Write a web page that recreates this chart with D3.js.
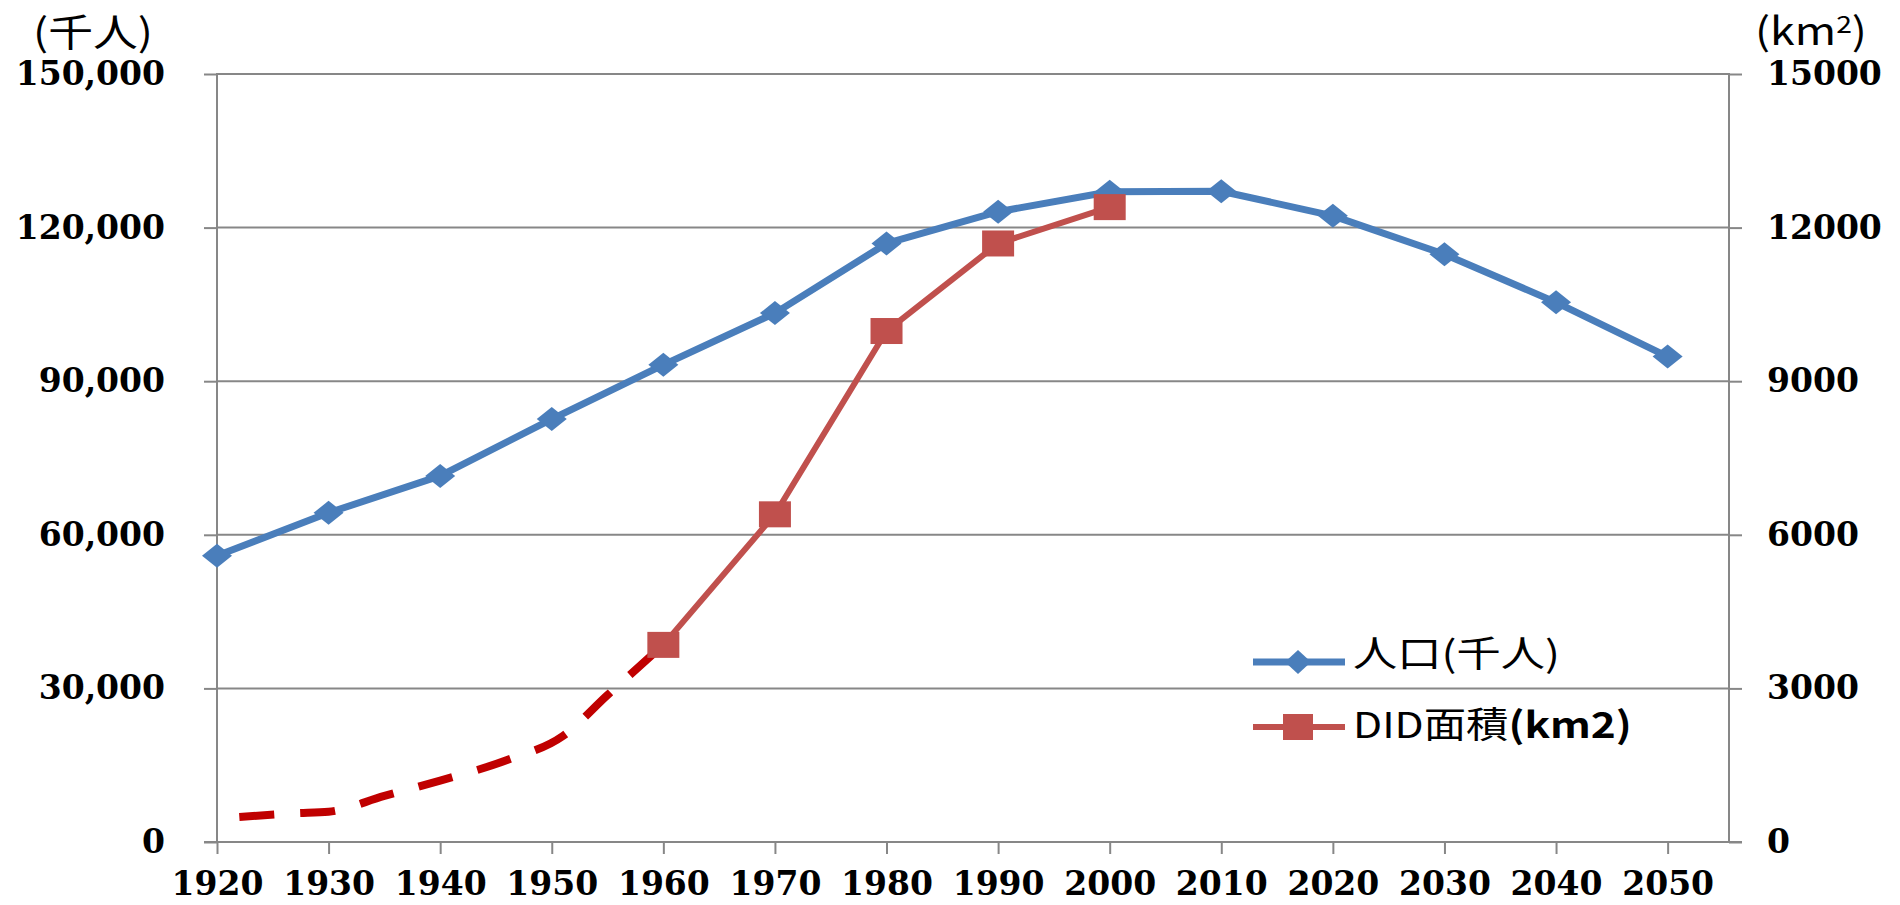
<!DOCTYPE html>
<html>
<head>
<meta charset="utf-8">
<script src="https://cdn.jsdelivr.net/npm/d3@7"></script>
<style>
  html, body { margin: 0; padding: 0; background: #fff; }
  svg { display: block; }
</style>
</head>
<body>
<svg id="chart" width="1900" height="905"></svg>
<script>
// ---------------- data ----------------
const years = [1920, 1930, 1940, 1950, 1960, 1970, 1980, 1990, 2000, 2010, 2020, 2030, 2040, 2050];
const population = [55900, 64300, 71500, 82600, 93200, 103300, 116900, 123100, 127000, 127100, 122300, 114800, 105400, 94800];
const didYears = [1960, 1970, 1980, 1990, 2000];
const didArea = [3850, 6400, 9980, 11690, 12400];
// estimated (dashed) part of DID area
const didEstYears = [1922, 1927, 1930, 1935, 1940, 1946, 1951, 1955, 1960];
const didEstArea = [490, 560, 590, 900, 1200, 1600, 2070, 2870, 3850];
const leftTicks = [0, 30000, 60000, 90000, 120000, 150000];
const rightTicks = [0, 3000, 6000, 9000, 12000, 15000];
const leftUnit = "(千人)";
const seriesNames = ["人口(千人)", "DID面積", "(km2)"];

// ---------------- layout ----------------
const L = 217, R = 1729, T = 74, B = 842;
const gray = "#878787";
const blue = "#4A7EBB";
const red = "#C0504D";
const dashRed = "#C00000";
const numFont = "'DejaVu Serif', serif";
const cjkFont = "'Noto Sans CJK JP', 'Noto Sans', sans-serif";

const svg = d3.select("#chart");

const x = d3.scaleLinear().domain([1920, 2055.5]).range([L, R]);
const yL = d3.scaleLinear().domain([0, 150000]).range([B, T]);
const yR = d3.scaleLinear().domain([0, 15000]).range([B, T]);

// gridlines
svg.append("g").selectAll("line").data(leftTicks.filter(d => d > 0)).join("line")
  .attr("x1", L).attr("x2", R)
  .attr("y1", d => yL(d)).attr("y2", d => yL(d))
  .attr("stroke", gray).attr("stroke-width", 2);

// left axis
const gLeft = svg.append("g").attr("transform", `translate(${L},0)`)
  .call(d3.axisLeft(yL).tickValues(leftTicks).tickSize(13).tickPadding(39).tickFormat(d3.format(",")));
// right axis
const gRight = svg.append("g").attr("transform", `translate(${R},0)`)
  .call(d3.axisRight(yR).tickValues(rightTicks).tickSize(13).tickPadding(25).tickFormat(d => String(d)));
// bottom axis
const gBottom = svg.append("g").attr("transform", `translate(0,${B})`)
  .call(d3.axisBottom(x).tickValues(years).tickSize(12).tickPadding(18).tickFormat(d => String(d)));

[gLeft, gRight, gBottom].forEach(g => {
  g.select(".domain").remove();
  g.selectAll(".tick line").attr("stroke", gray).attr("stroke-width", 2);
  g.selectAll(".tick text")
    .attr("fill", "#000")
    .style("font-family", numFont)
    .style("font-weight", "bold")
    .style("font-size", "33px");
});

// axis lines
svg.append("line").attr("x1", L).attr("x2", L).attr("y1", T - 1).attr("y2", B)
  .attr("stroke", gray).attr("stroke-width", 2);
svg.append("line").attr("x1", R).attr("x2", R).attr("y1", T - 1).attr("y2", B)
  .attr("stroke", gray).attr("stroke-width", 2);
svg.append("line").attr("x1", L - 13).attr("x2", R + 13).attr("y1", B).attr("y2", B)
  .attr("stroke", gray).attr("stroke-width", 2);

// helper to stretch text horizontally to a given width
function fitText(textSel, x0, y0, width) {
  const w = textSel.node().getComputedTextLength();
  textSel.attr("x", 0).attr("y", 0)
    .attr("transform", `translate(${x0},${y0}) scale(${width / w},1)`);
}

// unit labels
const u1 = svg.append("text").text(leftUnit)
  .style("font-family", cjkFont).style("font-size", "38px").attr("fill", "#000");
fitText(u1, 33, 46, 120);
const u2 = svg.append("text")
  .style("font-family", cjkFont).style("font-size", "38px").attr("fill", "#000");
u2.append("tspan").text("(km");
u2.append("tspan").text("2").attr("dy", -12).style("font-size", "24px");
u2.append("tspan").text(")").attr("dy", 12);
fitText(u2, 1755, 45, 112);

// ---------------- series ----------------
const popData = years.map((yr, i) => ({ yr, v: population[i] }));
const didData = didYears.map((yr, i) => ({ yr, v: didArea[i] }));
const estData = didEstYears.map((yr, i) => ({ yr, v: didEstArea[i] }));

// estimated DID dashed curve
svg.append("path").datum(estData)
  .attr("fill", "none").attr("stroke", dashRed).attr("stroke-width", 8)
  .attr("stroke-dasharray", "35,26")
  .attr("d", d3.line().x(d => x(d.yr)).y(d => yR(d.v)).curve(d3.curveMonotoneX));

// population line
svg.append("path").datum(popData)
  .attr("fill", "none").attr("stroke", blue).attr("stroke-width", 7)
  .attr("stroke-linejoin", "round")
  .attr("d", d3.line().x(d => x(d.yr)).y(d => yL(d.v)));

const diamond = "M0,-12L15,0L0,12L-15,0Z";
svg.append("g").selectAll("path").data(popData).join("path")
  .attr("d", diamond)
  .attr("transform", d => `translate(${x(d.yr)},${yL(d.v)})`)
  .attr("fill", blue);

// DID line
svg.append("path").datum(didData)
  .attr("fill", "none").attr("stroke", red).attr("stroke-width", 6)
  .attr("stroke-linejoin", "round")
  .attr("d", d3.line().x(d => x(d.yr)).y(d => yR(d.v)));

svg.append("g").selectAll("rect").data(didData).join("rect")
  .attr("x", d => x(d.yr) - 16).attr("y", d => yR(d.v) - 13)
  .attr("width", 32).attr("height", 26)
  .attr("fill", red);

// ---------------- legend ----------------
const lg = svg.append("g");
lg.append("line").attr("x1", 1253).attr("x2", 1345).attr("y1", 662).attr("y2", 662)
  .attr("stroke", blue).attr("stroke-width", 7);
lg.append("path").attr("d", "M0,-12L13,0L0,12L-13,0Z")
  .attr("transform", "translate(1298,662)").attr("fill", blue);
const t1 = lg.append("text").text(seriesNames[0])
  .style("font-family", cjkFont).style("font-size", "36px").attr("fill", "#000");
fitText(t1, 1353, 667, 207);

lg.append("line").attr("x1", 1253).attr("x2", 1345).attr("y1", 727).attr("y2", 727)
  .attr("stroke", red).attr("stroke-width", 6);
lg.append("rect").attr("x", 1283).attr("y", 714).attr("width", 30).attr("height", 26)
  .attr("fill", red);
const t2 = lg.append("text")
  .style("font-family", cjkFont).style("font-size", "36px").attr("fill", "#000");
t2.append("tspan").text(seriesNames[1]);
t2.append("tspan").text(seriesNames[2]).style("font-weight", "bold");
fitText(t2, 1353, 738, 279);
</script>
</body>
</html>
